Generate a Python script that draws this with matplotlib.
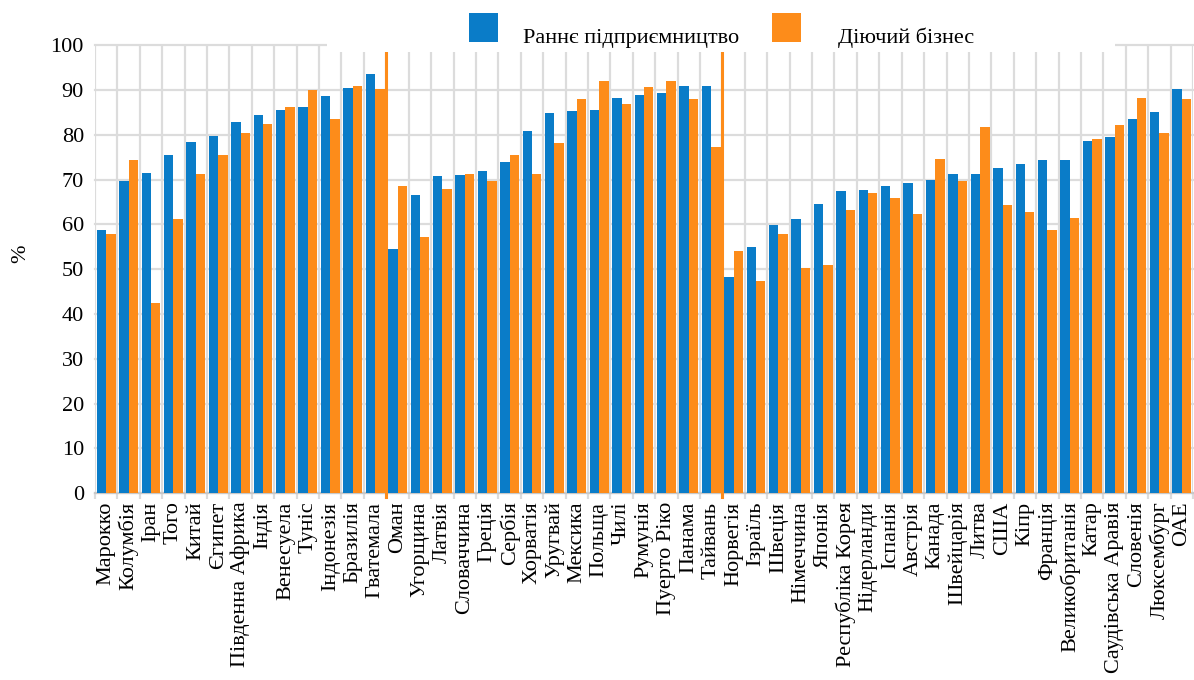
import matplotlib
matplotlib.use("Agg")
import matplotlib.pyplot as plt
import numpy as np
from matplotlib.patches import Rectangle

countries = [
    "Марокко", "Колумбія", "Іран", "Того", "Китай", "Єгипет", "Південна Африка",
    "Індія", "Венесуела", "Туніс", "Індонезія", "Бразилія", "Гватемала",
    "Оман", "Угорщина", "Латвія", "Словаччина", "Греція", "Сербія", "Хорватія",
    "Уругвай", "Мексика", "Польща", "Чилі", "Румунія", "Пуерто Ріко", "Панама",
    "Тайвань",
    "Норвегія", "Ізраїль", "Швеція", "Німеччина", "Японія", "Республіка Корея",
    "Нідерланди", "Іспанія", "Австрія", "Канада", "Швейцарія", "Литва", "США",
    "Кіпр", "Франція", "Великобританія", "Катар", "Саудівська Аравія",
    "Словенія", "Люксембург", "ОАЕ",
]
early_stage = [
    58.8, 69.7, 71.4, 75.4, 78.5, 79.8, 82.9, 84.5, 85.5, 86.3, 88.7, 90.4, 93.5,
    54.4, 66.6, 70.7, 71.0, 72.0, 74.0, 80.8, 84.9, 85.3, 85.5, 88.3, 88.9, 89.3,
    91.0, 91.0,
    48.3, 55.0, 59.9, 61.1, 64.6, 67.5, 67.6, 68.6, 69.3, 70.0, 71.3, 71.3, 72.7,
    73.4, 74.4, 74.4, 78.7, 79.4, 83.5, 85.2, 90.3,
]
established = [
    57.8, 74.4, 42.5, 61.1, 71.3, 75.6, 80.5, 82.5, 86.3, 90.0, 83.6, 91.0, 90.2,
    68.6, 57.1, 68.0, 71.3, 69.7, 75.4, 71.3, 78.1, 87.9, 92.0, 86.9, 90.6, 92.0,
    87.9, 77.3,
    54.1, 47.4, 57.8, 50.3, 50.9, 63.2, 66.9, 65.9, 62.3, 74.7, 69.7, 81.8, 64.3,
    62.8, 58.8, 61.5, 79.0, 82.1, 88.3, 80.5, 87.9,
]
group_sizes = [13, 15, 21]
legend_labels = ["Раннє підприємництво", "Діючий бізнес"]
y_ticks = list(range(0, 101, 10))

BLUE = "#0A7CC8"
ORANGE = "#FD8C1A"
GRID = "#DCDCDC"
SERIF = ["Liberation Serif", "DejaVu Serif"]

W, H = 1194, 680
fig = plt.figure(figsize=(W / 100, H / 100), dpi=100)
left, right, top, bottom = 95, 1193, 45.2, 493.2
ax = fig.add_axes([left / W, 1 - bottom / H, (right - left) / W, (bottom - top) / H])

n = len(countries)
x = np.arange(n)
bw = 0.42
ax.bar(x - bw / 2, early_stage, bw, color=BLUE, zorder=3)
ax.bar(x + bw / 2, established, bw, color=ORANGE, zorder=3)

ax.set_xlim(-0.5, n - 0.5)
ax.set_ylim(0, 100)
ax.set_yticks(y_ticks)
ax.set_yticklabels([str(v) for v in y_ticks], fontsize=16, family=SERIF)
ax.set_xticks(x)
ax.set_xticklabels(countries, rotation=90, fontsize=16, family=SERIF)
ax.set_xticks(np.arange(-0.5, n, 1), minor=True)

ax.grid(axis="y", which="major", color=GRID, lw=1.6, zorder=0)
ax.grid(axis="x", which="minor", color=GRID, lw=1.6, zorder=0)
ax.grid(axis="x", which="major", visible=False)
for gl in ax.get_ygridlines():
    gl.set_clip_on(False)
ax.tick_params(axis="x", which="major", length=0, pad=6)
ax.tick_params(axis="x", which="minor", length=4, width=1.6, color=GRID)
ax.tick_params(axis="y", length=0, pad=8)
for s in ["top", "right", "left"]:
    ax.spines[s].set_visible(False)
ax.spines["bottom"].set_color("#C8C8C8")
ax.spines["bottom"].set_linewidth(1.6)
ax.set_axisbelow(True)

ax.set_ylabel("%", fontsize=16, family=SERIF)
ax.yaxis.set_label_coords((30 - left) / (right - left),
                          (bottom - 254) / (bottom - top))

# group separators
b = 0
for g in group_sizes[:-1]:
    b += g
    ax.axvline(b - 0.5, ymin=-0.009, ymax=1.03, color=ORANGE, lw=2.2,
               clip_on=False, zorder=4)

# white legend background covering the top
fig.add_artist(Rectangle((327 / W, 1 - 51.5 / H), (1115 - 327) / W, 51.5 / H,
                         transform=fig.transFigure, facecolor="white",
                         edgecolor="none", zorder=2))
# manual legend
sq = 29
for (x0, col, tx0, lab) in [(469, BLUE, 523, legend_labels[0]),
                            (772, ORANGE, 838, legend_labels[1])]:
    fig.add_artist(Rectangle((x0 / W, 1 - 42 / H), sq / W, sq / H,
                             transform=fig.transFigure, facecolor=col,
                             edgecolor="none", zorder=3))
    fig.text(tx0 / W, 1 - 43 / H, lab, fontsize=16, family=SERIF,
             ha="left", va="baseline", zorder=4)

fig.savefig("out.png", dpi=100)
